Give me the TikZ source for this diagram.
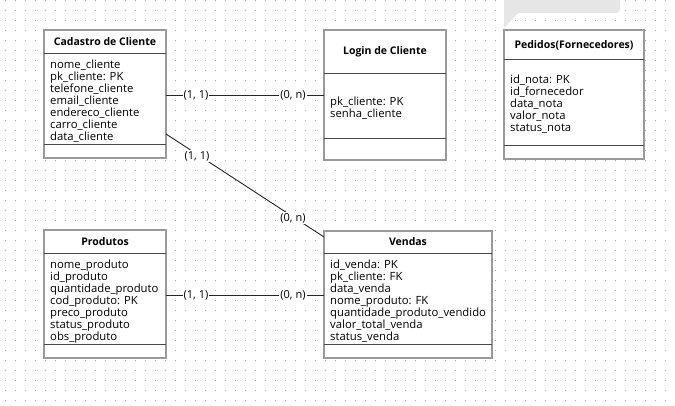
\documentclass[tikz,border=0pt]{standalone}
\usepackage{fontspec}
\setmainfont{Open Sans}
\usetikzlibrary{calc}
\definecolor{boxline}{HTML}{9A9A9A}
\definecolor{sepline}{HTML}{4A4A4A}
\definecolor{griddot}{HTML}{A8A8A8}
\definecolor{tipgray}{HTML}{E6E6E6}
\begin{document}
\begin{tikzpicture}[x=1pt,y=-1pt,
  tbl/.style={draw=boxline, line width=1.5pt, fill=white, anchor=north west, inner sep=0pt, outer sep=0pt},
  hdr/.style={font=\fontsize{10.5}{12}\selectfont\bfseries, inner sep=0pt},
  body/.style={font=\fontsize{11.3}{12}\selectfont, align=left, anchor=north west, inner sep=0pt},
  sepl/.style={draw=sepline, line width=0.9pt},
  rel/.style={draw=black!85, line width=0.9pt},
  card/.style={font=\fontsize{11}{12}\selectfont, fill=white, inner sep=1pt}]

\useasboundingbox (0,0) rectangle (675,405);
\fill[white] (0,0) rectangle (675,405);

% dotted canvas grid
\foreach \i in {0,...,67}
  \foreach \j in {0,...,40}
    \fill[griddot] (4.5+10*\i, 10*\j-0.5) rectangle ++(1,1);

% hint bubble at the top edge
\fill[tipgray] (504,-10) [sharp corners]-- (504,28) -- (518,13)
  [rounded corners=4pt]-- (620,13) -- (620,-10) -- cycle;

% tables
\node[tbl, minimum width=122, minimum height=128] (cad) at (44,30) {};
\draw[sepl] (cad.west |- 0,53) -- (cad.east |- 0,53);
\draw[sepl] (cad.west |- 0,144) -- (cad.east |- 0,144);
\node[hdr] (cadT) at (105,42) {Cadastro de Cliente};
\node[body] (cadB) at (50,59.5) {nome\_cliente\\pk\_cliente: PK\\telefone\_cliente\\email\_cliente\\endereco\_cliente\\carro\_cliente\\data\_cliente};

\node[tbl, minimum width=122, minimum height=130] (log) at (324,30) {};
\draw[sepl] (log.west |- 0,73) -- (log.east |- 0,73);
\draw[sepl] (log.west |- 0,138) -- (log.east |- 0,138);
\node[hdr] (logT) at (385,52) {Login de Cliente};
\node[body] (logB) at (330,96.5) {pk\_cliente: PK\\senha\_cliente};

\node[tbl, minimum width=140, minimum height=129] (ped) at (504,30) {};
\draw[sepl] (ped.west |- 0,59) -- (ped.east |- 0,59);
\draw[sepl] (ped.west |- 0,145) -- (ped.east |- 0,145);
\node[hdr] (pedT) at (574,45) {Pedidos(Fornecedores)};
\node[body] (pedB) at (510,74.5) {id\_nota: PK\\id\_fornecedor\\data\_nota\\valor\_nota\\status\_nota};

\node[tbl, minimum width=122, minimum height=128] (pro) at (44,230) {};
\draw[sepl] (pro.west |- 0,253) -- (pro.east |- 0,253);
\draw[sepl] (pro.west |- 0,344) -- (pro.east |- 0,344);
\node[hdr] (proT) at (105,242) {Produtos};
\node[body] (proB) at (50,259.5) {nome\_produto\\id\_produto\\quantidade\_produto\\cod\_produto: PK\\preco\_produto\\status\_produto\\obs\_produto};

\node[tbl, minimum width=168, minimum height=127] (ven) at (324,231) {};
\draw[sepl] (ven.west |- 0,253) -- (ven.east |- 0,253);
\draw[sepl] (ven.west |- 0,344) -- (ven.east |- 0,344);
\node[hdr] (venT) at (408,242) {Vendas};
\node[body] (venB) at (330,259.5) {id\_venda: PK\\pk\_cliente: FK\\data\_venda\\nome\_produto: FK\\quantidade\_produto\_vendido\\valor\_total\_venda\\status\_venda};

% relationships
\draw[rel] (cad.east |- 0,95) -- (log.west |- 0,95);
\node[card] (c1) at (196,95) {(1, 1)};
\node[card] (c2) at (293,95) {(0, n)};

\draw[rel] (cad.east |- 0,134) -- (ven.west |- 0,237);
\node[card] (c3) at (197,156) {(1, 1)};
\node[card] (c4) at (293,218) {(0, n)};

\draw[rel] (pro.east |- 0,295) -- (ven.west |- 0,295);
\node[card] (c5) at (196,295) {(1, 1)};
\node[card] (c6) at (293,295) {(0, n)};
\end{tikzpicture}
\end{document}
